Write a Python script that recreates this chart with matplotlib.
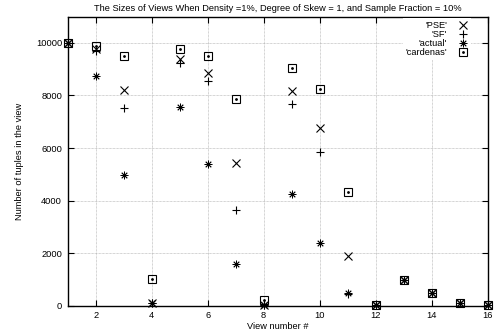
import matplotlib
matplotlib.use("Agg")
import matplotlib.pyplot as plt
from matplotlib.legend_handler import HandlerTuple

plt.rcParams['font.family'] = ['Liberation Sans', 'DejaVu Sans']

views = list(range(1, 17))
pse = [10000, 9750, 8200, 100, 9400, 8850, 5420, 30, 8170, 6750, 1900, 30, 990, 490, 110, 10]
sf = [10000, 9700, 7520, 100, 9250, 8550, 3650, 30, 7670, 5840, 430, 30, 990, 490, 110, 10]
actual = [10000, 8750, 4970, 100, 7560, 5400, 1570, 30, 4260, 2390, 470, 30, 990, 490, 110, 10]
cardenas = [10000, 9900, 9500, 1000, 9750, 9500, 7860, 200, 9060, 8250, 4330, 30, 990, 490, 110, 10]

title = "The Sizes of Views When Density =1%, Degree of Skew = 1, and Sample Fraction = 10%"


def main():
    fig = plt.figure(figsize=(4.94, 3.33), dpi=100)
    ax = fig.add_axes([0.137, 0.082, 0.85, 0.868])
    fs = 6.7
    ms = 5.5

    kw = dict(linestyle="none", color="black", clip_on=False, zorder=3)
    h1, = ax.plot(views, pse, marker="x", markersize=ms, markeredgewidth=0.8, **kw)
    h2, = ax.plot(views, sf, marker="+", markersize=ms, markeredgewidth=0.8, **kw)
    h3, = ax.plot(views, actual, marker=(8, 2, 0), markersize=ms, markeredgewidth=0.6, **kw)
    h4, = ax.plot(views, cardenas, marker="s", markersize=ms, markerfacecolor="none",
                  markeredgewidth=0.8, **kw)
    h5, = ax.plot(views, cardenas, marker="o", markersize=1.0, **kw)

    ax.set_xlim(1, 16)
    ax.set_ylim(0, 11000)
    ax.set_xticks(range(2, 17, 2))
    ax.set_yticks(range(0, 10001, 2000))
    ax.tick_params(direction="in", top=True, right=True, labelsize=fs, length=4, width=0.8,
                   pad=4)
    ax.grid(True, color="#aaaaaa", linestyle=(0, (1, 1)), linewidth=0.5)
    for s in ax.spines.values():
        s.set_linewidth(1.0)

    ax.set_title(title, fontsize=fs, pad=4)
    ax.set_xlabel("View number #", fontsize=fs, labelpad=1)
    fig.text(20 / 494, 1 - 161 / 333, "Number of tuples in the view", fontsize=fs,
             rotation=90, ha="center", va="center")

    leg = ax.legend([h1, h2, h3, (h4, h5)], ["'PSE'", "'SF'", "'actual'", "'cardenas'"],
                    handler_map={tuple: HandlerTuple(ndivide=1)},
                    loc="upper right", bbox_to_anchor=(0.96, 0.995), fontsize=fs,
                    markerfirst=False, frameon=True, fancybox=False, handlelength=1.0,
                    handletextpad=1.25, labelspacing=0.0, borderpad=0.3, borderaxespad=0)
    leg.get_frame().set_linewidth(0)
    leg.get_frame().set_facecolor("white")
    leg.get_frame().set_alpha(1)
    leg._legend_box._children[-1]._children[0].align = "right"

    fig.savefig("out.png", dpi=100)


if __name__ == "__main__":
    main()
